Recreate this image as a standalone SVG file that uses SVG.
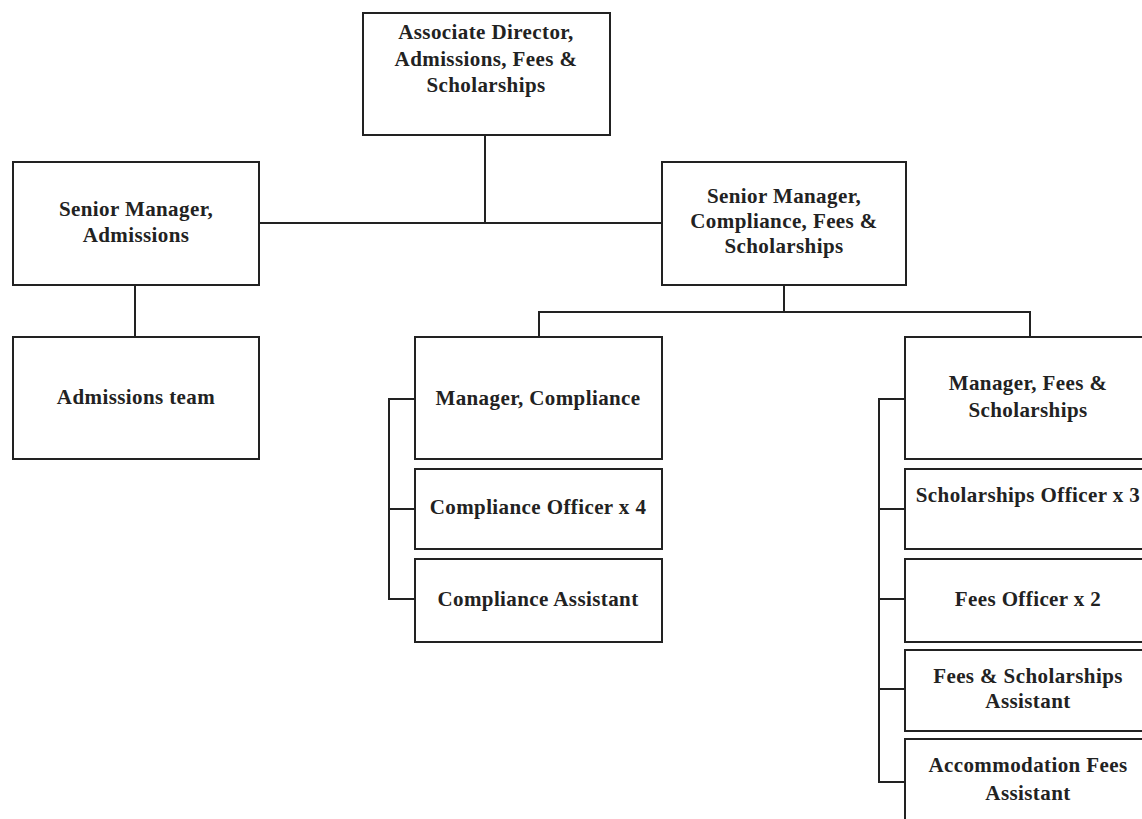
<svg xmlns="http://www.w3.org/2000/svg" width="1142" height="819" viewBox="0 0 1142 819">
<style>
rect.box{fill:#fff;stroke:#222;stroke-width:2}
text{font-family:"Liberation Serif","Times New Roman",serif;font-weight:bold;font-size:21px;letter-spacing:0.4px;fill:#222;text-anchor:middle}
.c path,.c line{stroke:#222;stroke-width:2;fill:none}
</style>
<rect width="1142" height="819" fill="#fff"/>
<g class="c" id="connectors">
<line x1="485" y1="135" x2="485" y2="223"/>
<line x1="259" y1="223" x2="662" y2="223"/>
<line x1="135" y1="285" x2="135" y2="337"/>
<path d="M784 285V312M539 337V312H1030V337"/>
<path d="M415 399H389V599H415M389 509H415"/>
<path d="M905 399H879V782H905M879 509H905M879 599H905M879 689H905"/>
</g>
<g id="n-assoc"><rect class="box" x="363" y="13" width="247" height="122"/><text x="486" y="39">Associate Director,</text><text x="486" y="66">Admissions, Fees &amp;</text><text x="486" y="92">Scholarships</text></g>
<g id="n-sm-adm"><rect class="box" x="13" y="162" width="246" height="123"/><text x="136" y="216">Senior Manager,</text><text x="136" y="242">Admissions</text></g>
<g id="n-sm-comp"><rect class="box" x="662" y="162" width="244" height="123"/><text x="784" y="203">Senior Manager,</text><text x="784" y="228">Compliance, Fees &amp;</text><text x="784" y="253">Scholarships</text></g>
<g id="n-adm-team"><rect class="box" x="13" y="337" width="246" height="122"/><text x="136" y="404">Admissions team</text></g>
<g id="n-mgr-comp"><rect class="box" x="415" y="337" width="247" height="122"/><text x="538" y="405">Manager, Compliance</text></g>
<g id="n-comp-off"><rect class="box" x="415" y="469" width="247" height="80"/><text x="538" y="514">Compliance Officer x 4</text></g>
<g id="n-comp-asst"><rect class="box" x="415" y="559" width="247" height="83"/><text x="538" y="606">Compliance Assistant</text></g>
<g id="n-mgr-fees"><rect class="box" x="905" y="337" width="247" height="122"/><text x="1028" y="390">Manager, Fees &amp;</text><text x="1028" y="417">Scholarships</text></g>
<g id="n-schol-off"><rect class="box" x="905" y="469" width="247" height="80"/><text x="1028" y="502">Scholarships Officer x 3</text></g>
<g id="n-fees-off"><rect class="box" x="905" y="559" width="247" height="83"/><text x="1028" y="606">Fees Officer x 2</text></g>
<g id="n-fs-asst"><rect class="box" x="905" y="650" width="247" height="81"/><text x="1028" y="683">Fees &amp; Scholarships</text><text x="1028" y="708">Assistant</text></g>
<g id="n-acc-asst"><rect class="box" x="905" y="739" width="247" height="100"/><text x="1028" y="772">Accommodation Fees</text><text x="1028" y="800">Assistant</text></g>
</svg>
